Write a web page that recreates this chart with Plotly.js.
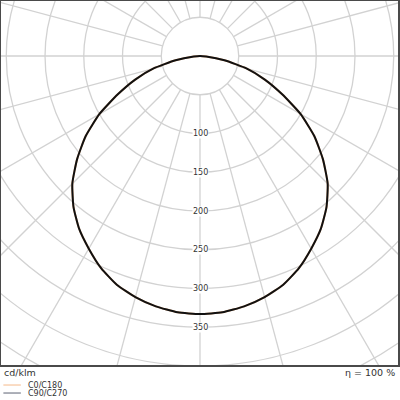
<!DOCTYPE html>
<html>
<head>
<meta charset="utf-8">
<script src="https://cdn.plot.ly/plotly-3.0.1.min.js"></script>
<style>
  html, body { margin: 0; padding: 0; background: #fff; }
  #plotlyDiv { width: 400px; height: 400px; }
</style>
</head>
<body>
<div id="plotlyDiv"></div>
<script>
// luminous intensity, cd/klm, by gamma angle (0 = straight down)
const gammaDeg = [0, 5, 10, 15, 20, 25, 30, 35, 40, 45, 50, 55, 60, 65, 70, 75, 80, 85, 90]
const intensityC0 = [333, 332, 328, 322, 314, 302, 287, 272, 254, 233, 207, 180, 150, 117, 89, 62, 32, 8, 0]
const intensityC90 = [333, 332, 328, 322, 314, 302, 287, 272, 254, 233, 207, 180, 150, 117, 89, 62, 32, 8, 0]

const ringValues = [50, 100, 150, 200, 250, 300, 350, 400, 450, 500]
const ringLabels = [100, 150, 200, 250, 300, 350]
const spokeAngles = Array.from(Array(24)).map((x, i) => i * 15)

const unitText = 'cd/klm'
const etaText = 'η = 100 %'
const seriesNames = ['C0/C180', 'C90/C270']
const seriesColors = ['#f5b98a', '#5b6272']

const rad = d => d * Math.PI / 180

// both halves of a C-plane: right side from gamma, left side mirrored
function planeCurve(values) {
  let xs = [], ys = []
  for (let i = values.length - 1; i >= 0; i--) {
    xs.push(-values[i] * Math.sin(rad(gammaDeg[i])))
    ys.push(-values[i] * Math.cos(rad(gammaDeg[i])))
  }
  for (let i = 1; i < values.length; i++) {
    xs.push(values[i] * Math.sin(rad(gammaDeg[i])))
    ys.push(-values[i] * Math.cos(rad(gammaDeg[i])))
  }
  return { xs, ys }
}

const c0 = planeCurve(intensityC0)
const c90 = planeCurve(intensityC90)

const curveLine = { width: 2, shape: 'spline', smoothing: 0.5 }
let data = [
  { x: c0.xs, y: c0.ys, mode: 'lines', line: Object.assign({ color: seriesColors[0] }, curveLine), showlegend: false, hoverinfo: 'skip' },
  { x: c90.xs, y: c90.ys, mode: 'lines', line: Object.assign({ color: '#111' }, curveLine), showlegend: false, hoverinfo: 'skip' }
]

const gridStyle = { color: '#d2d2d2', width: 1.3 }
let shapes = []
ringValues.forEach(r => {
  shapes.push({ type: 'circle', xref: 'x', yref: 'y', x0: -r, x1: r, y0: -r, y1: r, line: gridStyle, layer: 'below' })
})
const rMin = ringValues[0], rMax = 700
spokeAngles.forEach(a => {
  shapes.push({
    type: 'line', xref: 'x', yref: 'y',
    x0: rMin * Math.sin(rad(a)), y0: -rMin * Math.cos(rad(a)),
    x1: rMax * Math.sin(rad(a)), y1: -rMax * Math.cos(rad(a)),
    line: gridStyle, layer: 'below'
  })
})
// legend swatches
seriesColors.forEach((c, i) => {
  shapes.push({ type: 'line', xref: 'paper', yref: 'paper', x0: 0.006, x1: 0.05,
    y0: -0.055 - i * 0.022, y1: -0.055 - i * 0.022, line: { color: c, width: 1 } })
})

const textFont = { family: 'DejaVu Sans', size: 9.5, color: '#333' }
let annotations = ringLabels.map(r => ({
  x: 0, y: -r, xref: 'x', yref: 'y', text: String(r), showarrow: false,
  font: { family: 'DejaVu Sans', size: 8, color: '#333' }, bgcolor: '#fff', borderpad: 0
}))
annotations.push({ x: 0.003, y: -0.02, xref: 'paper', yref: 'paper', text: unitText, showarrow: false,
  xanchor: 'left', yanchor: 'middle', font: textFont })
annotations.push({ x: 0.998, y: -0.02, xref: 'paper', yref: 'paper', text: etaText, showarrow: false,
  xanchor: 'right', yanchor: 'middle', font: textFont })
seriesNames.forEach((n, i) => {
  annotations.push({ x: 0.062, y: -0.055 - i * 0.022, xref: 'paper', yref: 'paper', text: n, showarrow: false,
    xanchor: 'left', yanchor: 'middle', font: { family: 'DejaVu Sans', size: 8, color: '#333' } })
})

const axisStyle = {
  showgrid: false, zeroline: false, showticklabels: false, ticks: '',
  showline: true, mirror: true, linecolor: '#4a4a4a', linewidth: 2, fixedrange: true
}

let layout = {
  width: 400, height: 400,
  margin: { l: 1, r: 2, t: 1, b: 35 },
  paper_bgcolor: '#fff', plot_bgcolor: '#fff',
  xaxis: Object.assign({ range: [-256.8, 255.5] }, axisStyle),
  yaxis: Object.assign({ range: [-398.7, 71] }, axisStyle),
  shapes, annotations,
  showlegend: false
}

Plotly.newPlot('plotlyDiv', data, layout, { staticPlot: true })
</script>
</body>
</html>
